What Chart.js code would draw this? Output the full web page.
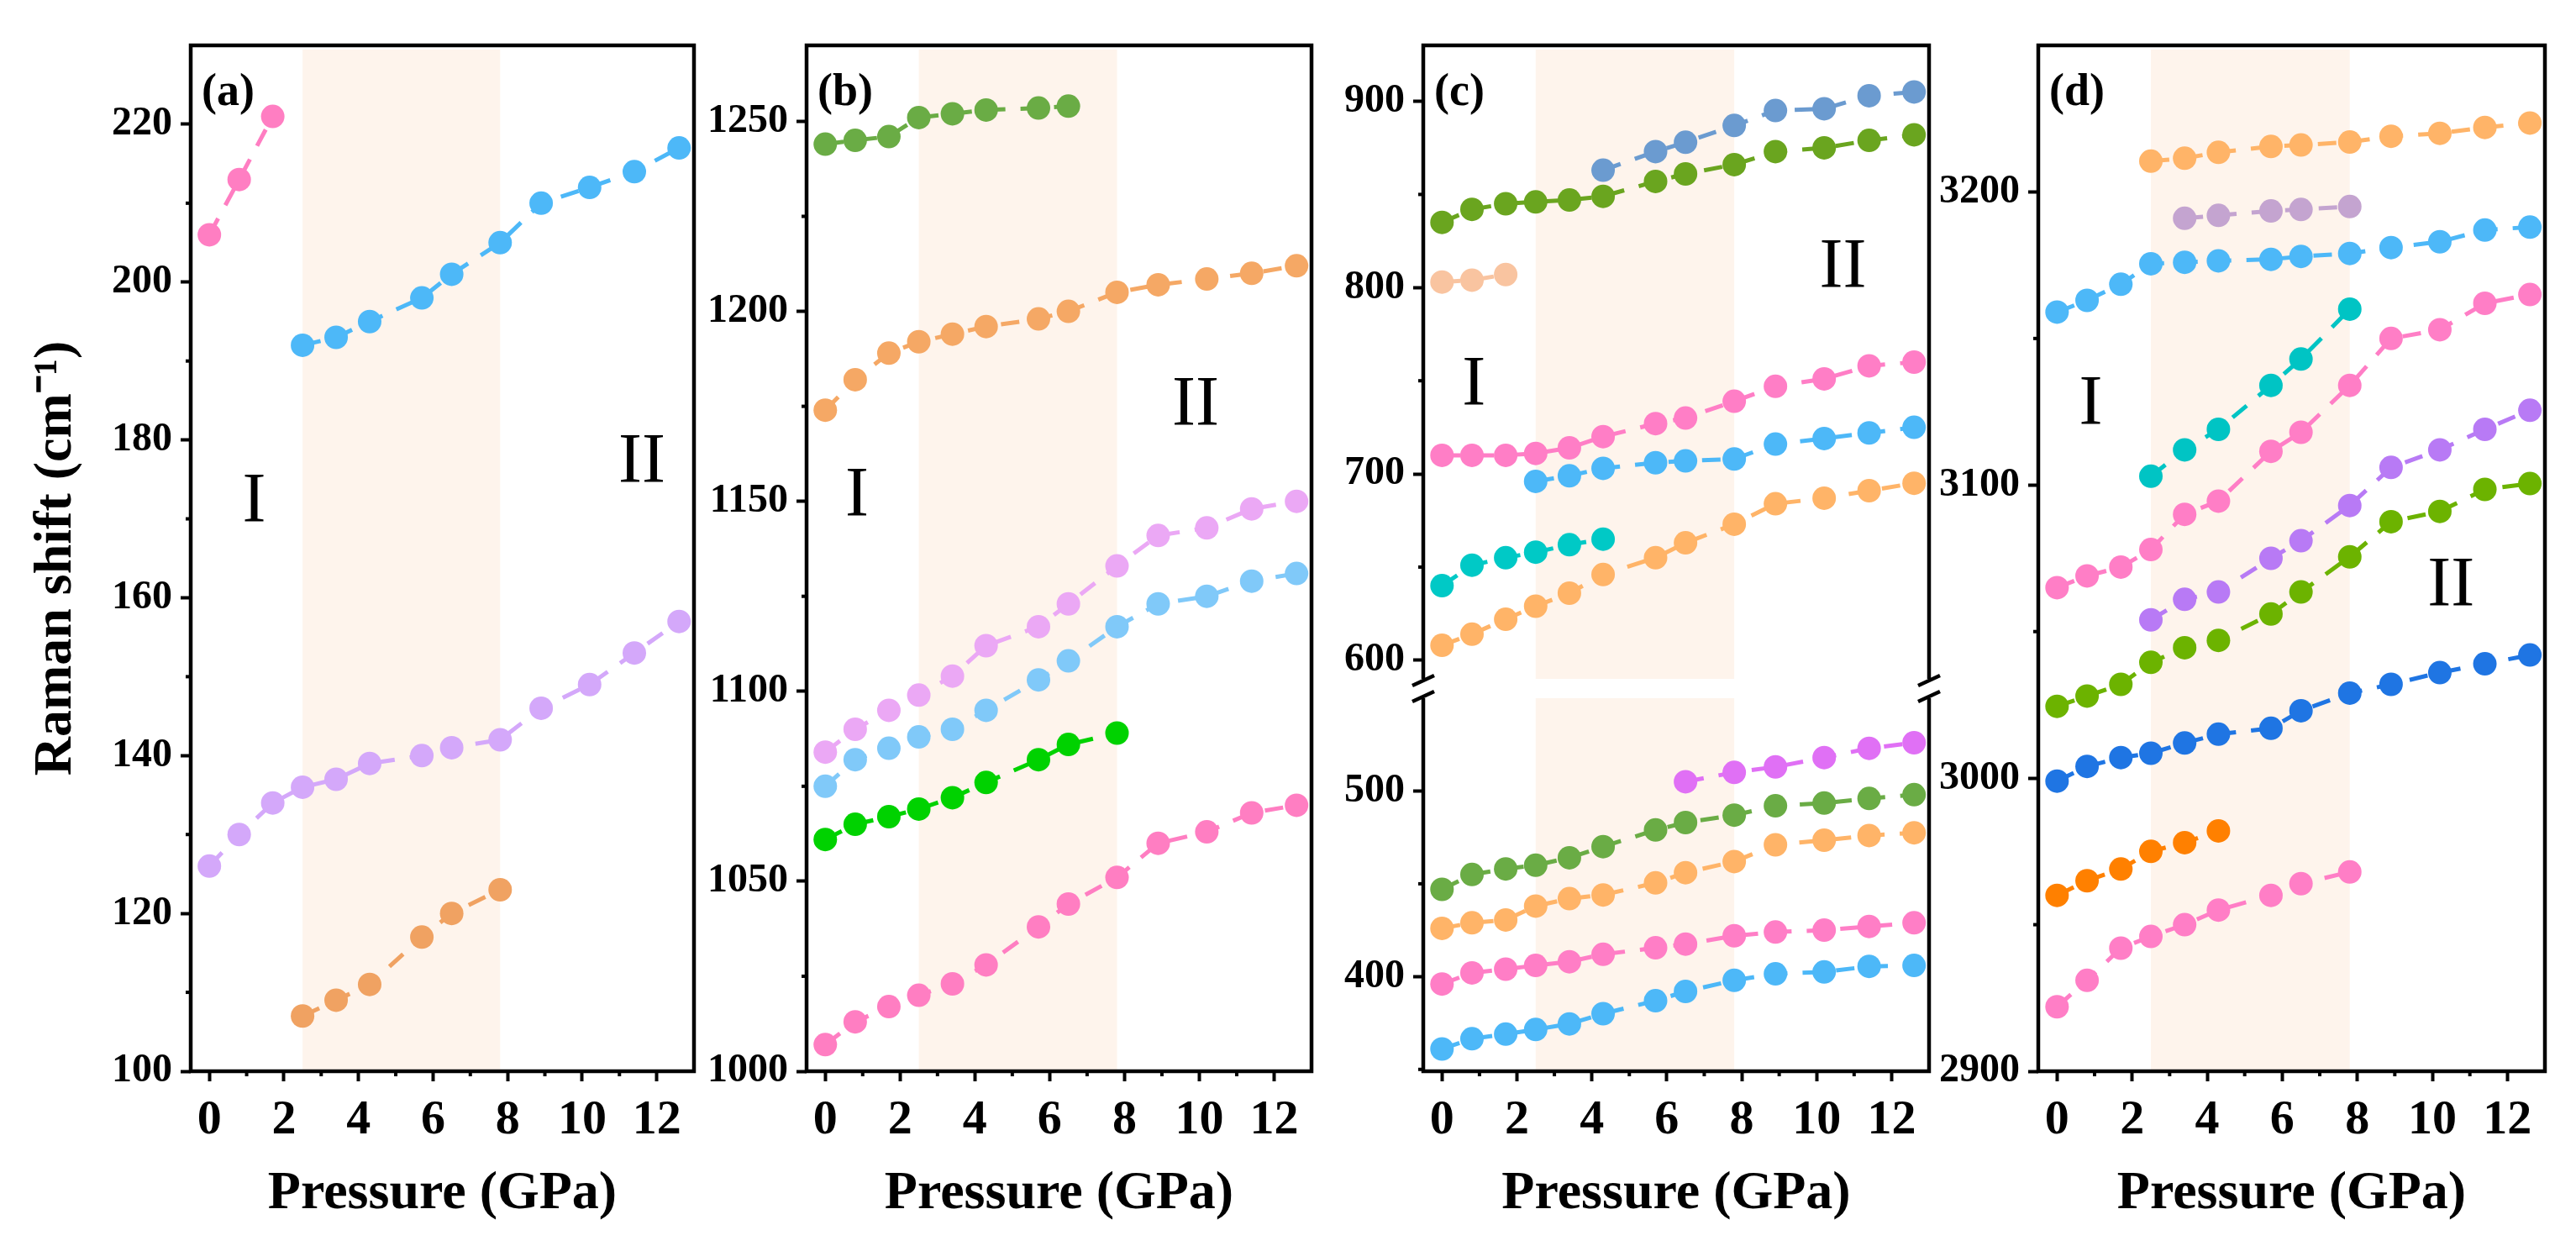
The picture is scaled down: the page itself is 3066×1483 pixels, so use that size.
<!DOCTYPE html>
<html>
<head>
<meta charset="utf-8">
<title>Raman shift vs pressure</title>
<script src="https://cdn.jsdelivr.net/npm/chart.js@4.4.1/dist/chart.umd.min.js"></script>
<style>
body { margin: 0; background: #fff; }
#wrap { position: relative; width: 3066px; height: 1483px; overflow: hidden; background: #fff; }
canvas { position: absolute; }
</style>
</head>
<body>
<div id="wrap">
<canvas id="chartA" width="840" height="1483" style="left:0px;top:0px"></canvas>
<canvas id="chartB" width="735" height="1483" style="left:840px;top:0px"></canvas>
<canvas id="chartCtop" width="735" height="850" style="left:1575px;top:0px"></canvas>
<canvas id="chartCbot" width="735" height="694" style="left:1575px;top:789px"></canvas>
<canvas id="chartD" width="786" height="1483" style="left:2280px;top:0px"></canvas>
</div>
<script>
//pressure points shared by every panel (GPa)
var pressure = [0, 0.8, 1.7, 2.5, 3.4, 4.3, 5.7, 6.5, 7.8, 8.9, 10.2, 11.4, 12.6];
var xTicks = [0, 2, 4, 6, 8, 10, 12];
//shaded transition region (GPa)
var phaseBand = [2.5, 7.8];

//panel (a) Raman shift (cm-1), null = peak not seen
var aPink   = [206, 213, 221, null, null, null, null, null, null, null, null, null, null];
var aBlue   = [null, null, null, 192, 193, 195, 198, 201, 205, 210, 212, 214, 217];
var aPurple = [126, 130, 134, 136, 137, 139, 140, 141, 142, 146, 149, 153, 157];
var aOrange = [null, null, null, 107, 109, 111, 117, 120, 123, null, null, null, null];
var aTicks  = [100, 120, 140, 160, 180, 200, 220];

//panel (b)
var bGreen  = [1244, 1245, 1246, 1251, 1252, 1253, 1253.5, 1254, null, null, null, null, null];
var bOrange = [1174, 1182, 1189, 1192, 1194, 1196, 1198, 1200, 1205, 1207, 1208.5, 1210, 1212];
var bViolet = [1084, 1090, 1095, 1099, 1104, 1112, 1117, 1123, 1133, 1141, 1143, 1148, 1150];
var bBlue   = [1075, 1082, 1085, 1088, 1090, 1095, 1103, 1108, 1117, 1123, 1125, 1129, 1131];
var bLime   = [1061, 1065, 1067, 1069, 1072, 1076, 1082, 1086, 1089, null, null, null, null];
var bPink   = [1007, 1013, 1017, 1020, 1023, 1028, 1038, 1044, 1051, 1060, 1063, 1068, 1070];
var bTicks  = [1000, 1050, 1100, 1150, 1200, 1250];

//panel (c) upper part of the broken axis
var cSteel  = [null, null, null, null, null, 863, 873, 878, 887, 895, 896, 903, 905];
var cGreen  = [835, 842, 845, 846, 847, 849, 857, 861, 866, 873, 875, 879, 882];
var cPeach  = [803, 804, 807, null, null, null, null, null, null, null, null, null, null];
var cPink   = [710, 710, 710, 711, 714, 720, 727, 730, 739, 747, 751, 758, 760];
var cSky    = [null, null, null, 696, 699, 703, 706, 707, 708, 716, 719, 722, 725];
var cTeal   = [640, 651, 655, 658, 662, 665, null, null, null, null, null, null, null];
var cOrange = [608, 614, 622, 629, 636, 646, 655, 663, 673, 684, 687, 691, 695];
var cTopTicks = [600, 700, 800, 900];
//panel (c) lower part
var cMagenta = [null, null, null, null, null, null, null, 505, 510, 513, 518, 523, 526];
var cGreen2  = [447, 455, 458, 460, 464, 470, 479, 483, 487, 492, 493.5, 496, 498];
var cOrange2 = [426, 429, 430.5, 438, 442, 444, 450.5, 456, 462, 471, 473.5, 476, 477.5];
var cPink2   = [396, 402, 404, 406, 408, 412, 415.5, 417.5, 422, 424, 425, 427, 429];
var cBlue2   = [361, 366.5, 369, 371.5, 374.5, 380, 387, 392, 398, 401.5, 402.5, 405.5, 406];
var cBotTicks = [400, 500];

//panel (d)
var dOrange  = [null, null, null, 3210.5, 3211.5, 3213.5, 3215.5, 3216, 3217, 3219, 3220, 3222, 3223.5];
var dLilac   = [null, null, null, null, 3191, 3192, 3193.5, 3194, 3195, null, null, null, null];
var dSky     = [3159, 3163, 3168.5, 3175.5, 3176, 3176.5, 3177, 3178, 3179, 3181, 3183, 3187, 3188];
var dTeal    = [null, null, null, 3103, 3112, 3119, 3134, 3143, 3160, null, null, null, null];
var dPink    = [3065, 3069, 3072, 3078, 3090, 3094.5, 3111.5, 3118, 3134, 3150, 3153, 3162, 3165];
var dPurple  = [null, null, null, 3054, 3061, 3063.5, 3075, 3081, 3093, 3106, 3112, 3119, 3125.5];
var dGreen   = [3024.5, 3028, 3032, 3039.5, 3044.5, 3047, 3056, 3063.5, 3075.5, 3087.5, 3091, 3098.5, 3100.5];
var dBlue    = [2999, 3004, 3007, 3008.5, 3012, 3015, 3017, 3023, 3029, 3032, 3036, 3039, 3042];
var dOrange2 = [2960, 2965, 2969, 2975, 2978, 2982, null, null, null, null, null, null, null];
var dPink2   = [2922, 2931, 2942, 2946, 2950, 2955, 2960, 2964, 2968, null, null, null, null];
var dTicks   = [2900, 3000, 3100, 3200];

//phase labels, in data coordinates [GPa, cm-1]
var aPhaseLabels = [["I", 1.2, 172], ["II", 11.6, 177]];
var bPhaseLabels = [["I", 0.85, 1151], ["II", 9.9, 1175]];
var cPhaseLabels = [["I", 0.85, 747], ["II", 10.7, 810]];
var dPhaseLabels = [["I", 0.9, 3127], ["II", 10.5, 3065]];

var serif = "'Liberation Serif', 'Times New Roman', serif";

//draws shading, frame, minor ticks and text labels
var panelDeco = {
    id: 'panelDeco',
    beforeDatasetsDraw: function (chart, args, opts) {
        var ctx = chart.ctx, area = chart.chartArea, x = chart.scales.x;
        var x0 = x.getPixelForValue(phaseBand[0]);
        var x1 = x.getPixelForValue(phaseBand[1]);
        var top = opts.openTop ? area.top : area.top + 5;
        ctx.save();
        ctx.fillStyle = '#fef4ec';
        ctx.fillRect(x0, top, x1 - x0, area.bottom - top);
        ctx.restore();
    },
    afterDraw: function (chart, args, opts) {
        var ctx = chart.ctx, a = chart.chartArea, x = chart.scales.x, y = chart.scales.y;
        ctx.save();
        ctx.strokeStyle = '#000';
        ctx.lineWidth = 4.5;
        ctx.lineCap = 'butt';
        ctx.beginPath();
        if (opts.openBottom) {
            ctx.moveTo(a.left, a.bottom);
            ctx.lineTo(a.left, a.top);
            ctx.lineTo(a.right, a.top);
            ctx.lineTo(a.right, a.bottom);
        } else if (opts.openTop) {
            ctx.moveTo(a.left, a.top);
            ctx.lineTo(a.left, a.bottom);
            ctx.lineTo(a.right, a.bottom);
            ctx.lineTo(a.right, a.top);
        } else {
            ctx.rect(a.left, a.top, a.right - a.left, a.bottom - a.top);
        }
        ctx.stroke();

        //axis break marks
        var by = null;
        if (opts.openBottom) by = a.bottom + 2;
        if (opts.openTop) by = a.top - 2;
        if (by !== null) {
            [a.left, a.right].forEach(function (bx) {
                ctx.beginPath();
                ctx.moveTo(bx - 13, by + 6);
                ctx.lineTo(bx + 13, by - 6);
                ctx.stroke();
            });
        }

        //minor ticks halfway between major ones
        ctx.lineWidth = 4;
        var yt = y.ticks, half = opts.yStep / 2;
        var minors = [];
        for (var i = 0; i < yt.length; i++) minors.push(yt[i].value + half);
        if (yt.length) minors.push(yt[0].value - half);
        minors.forEach(function (v) {
            if (v <= y.min || v >= y.max) return;
            var py = y.getPixelForValue(v);
            ctx.beginPath();
            ctx.moveTo(a.left - 6, py);
            ctx.lineTo(a.left, py);
            ctx.stroke();
        });
        if (opts.xMinor) {
            xTicks.forEach(function (t) {
                var v = t + 1;
                if (v <= x.min || v >= x.max) return;
                var px = x.getPixelForValue(v);
                ctx.beginPath();
                ctx.moveTo(px, a.bottom);
                ctx.lineTo(px, a.bottom + 6);
                ctx.stroke();
            });
        }

        //phase labels and panel letter
        ctx.fillStyle = '#000';
        ctx.textAlign = 'center';
        ctx.textBaseline = 'middle';
        ctx.font = 'normal 84px ' + serif;
        (opts.phases || []).forEach(function (p) {
            ctx.fillText(p[0], x.getPixelForValue(p[1]), y.getPixelForValue(p[2]));
        });
        if (opts.letter) {
            ctx.textAlign = 'left';
            ctx.font = 'bold 54px ' + serif;
            ctx.fillText(opts.letter, a.left + 13, a.top + 57);
        }
        ctx.restore();
    }
};

function series(values, color) {
    var pts = [];
    for (var i = 0; i < pressure.length; i++) {
        if (values[i] !== null) pts.push({x: pressure[i], y: values[i]});
    }
    return {
        data: pts,
        showLine: true,
        borderColor: color,
        backgroundColor: color,
        borderWidth: 5,
        borderDash: [22, 18],
        borderCapStyle: 'butt',
        pointRadius: 14,
        pointBorderWidth: 0,
        pointBackgroundColor: color,
        clip: false
    };
}

function tickObjects(list) {
    return list.map(function (v) { return {value: v}; });
}

function makeChart(id, datasets, cfg) {
    var tickList = cfg.yTicks;
    return new Chart(document.getElementById(id), {
        type: 'scatter',
        data: {datasets: datasets},
        options: {
            responsive: false,
            animation: false,
            devicePixelRatio: 1,
            layout: {padding: cfg.padding},
            plugins: {
                legend: {display: false},
                tooltip: {enabled: false},
                panelDeco: cfg.deco
            },
            scales: {
                x: {
                    type: 'linear',
                    display: cfg.showX,
                    min: -0.5,
                    max: 13,
                    afterBuildTicks: function (s) { s.ticks = tickObjects(xTicks); },
                    ticks: {
                        autoSkip: false,
                        maxRotation: 0,
                        color: '#000',
                        padding: 12,
                        font: {family: serif, size: 58, weight: 'bold'},
                        callback: function (v) { return String(v); }
                    },
                    grid: {drawOnChartArea: false, tickLength: 12, tickWidth: 4, tickColor: '#000'},
                    border: {display: false},
                    title: {
                        display: true,
                        text: 'Pressure (GPa)',
                        color: '#000',
                        font: {family: serif, size: 64, weight: 'bold'},
                        padding: {top: 0, bottom: 23}
                    },
                    afterFit: function (s) { if (cfg.showX) s.height = 208; }
                },
                y: {
                    type: 'linear',
                    min: cfg.yMin,
                    max: cfg.yMax,
                    afterBuildTicks: function (s) { s.ticks = tickObjects(tickList); },
                    ticks: {
                        autoSkip: false,
                        color: '#000',
                        padding: 10,
                        font: {family: serif, size: 48, weight: 'bold'},
                        callback: function (v) { return String(v); }
                    },
                    grid: {drawOnChartArea: false, tickLength: 12, tickWidth: 4, tickColor: '#000'},
                    border: {display: false},
                    title: {
                        display: !!cfg.yTitle,
                        text: cfg.yTitle || '',
                        color: '#000',
                        font: {family: serif, size: 64, weight: 'bold'},
                        padding: {top: 29, bottom: 0}
                    },
                    afterFit: function (s) { s.width = cfg.yWidth; }
                }
            }
        },
        plugins: [panelDeco]
    });
}

var chartA = makeChart('chartA', [
    series(aPink, '#ff7ec2'),
    series(aBlue, '#4db8f8'),
    series(aPurple, '#d4a8fa'),
    series(aOrange, '#f0a262')
], {
    padding: {top: 54, right: 13, bottom: 0, left: 0},
    yWidth: 227, yMin: 100, yMax: 230, yTicks: aTicks, showX: true,
    yTitle: 'Raman shift (cm\u207B\u00B9)',
    deco: {letter: '(a)', yStep: 20, xMinor: true, phases: aPhaseLabels}
});

var chartB = makeChart('chartB', [
    series(bGreen, '#6aac45'),
    series(bOrange, '#f5a865'),
    series(bViolet, '#eba8f5'),
    series(bBlue, '#80c9f9'),
    series(bLime, '#00d200'),
    series(bPink, '#ff7ec2')
], {
    padding: {top: 54, right: 11, bottom: 0, left: 0},
    yWidth: 120, yMin: 1000, yMax: 1270, yTicks: bTicks, showX: true,
    deco: {letter: '(b)', yStep: 50, xMinor: true, phases: bPhaseLabels}
});

//upper and lower halves of the broken axis in (c): extra padding keeps
//room for the tick labels that chart.js reserves at both ends
var chartCtop = makeChart('chartCtop', [
    series(cSteel, '#6b9bd0'),
    series(cGreen, '#6aa51f'),
    series(cPeach, '#f9c4a0'),
    series(cPink, '#ff7ec6'),
    series(cSky, '#4db8f8'),
    series(cTeal, '#00c9c6'),
    series(cOrange, '#ffb468')
], {
    padding: {top: 54, right: 14, bottom: 42, left: 0},
    yWidth: 119, yMin: 590, yMax: 930, yTicks: cTopTicks, showX: false,
    deco: {letter: '(c)', yStep: 100, xMinor: false, openBottom: true, phases: cPhaseLabels}
});

var chartCbot = makeChart('chartCbot', [
    series(cMagenta, '#e070f5'),
    series(cGreen2, '#6aac45'),
    series(cOrange2, '#ffb468'),
    series(cPink2, '#ff7ec6'),
    series(cBlue2, '#4db8f8')
], {
    padding: {top: 42, right: 14, bottom: 0, left: 0},
    yWidth: 119, yMin: 349, yMax: 550, yTicks: cBotTicks, showX: true,
    deco: {yStep: 100, xMinor: true, openTop: true}
});

var chartD = makeChart('chartD', [
    series(dOrange, '#ffb468'),
    series(dLilac, '#c4a4d0'),
    series(dSky, '#4db8f8'),
    series(dTeal, '#00c4c4'),
    series(dPink, '#ff7ec6'),
    series(dPurple, '#b87af5'),
    series(dGreen, '#6cb300'),
    series(dBlue, '#1f75e3'),
    series(dOrange2, '#ff8000'),
    series(dPink2, '#ff7ec6')
], {
    padding: {top: 54, right: 37, bottom: 0, left: 0},
    yWidth: 146, yMin: 2900, yMax: 3250, yTicks: dTicks, showX: true,
    deco: {letter: '(d)', yStep: 100, xMinor: true, phases: dPhaseLabels}
});
</script>
</body>
</html>
